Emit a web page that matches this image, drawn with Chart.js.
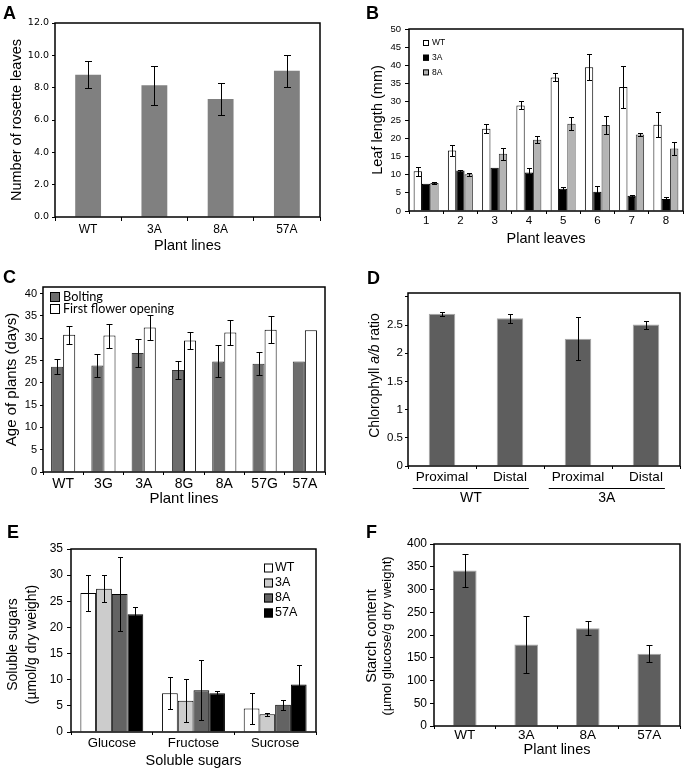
<!DOCTYPE html>
<html>
<head>
<meta charset="utf-8">
<script src="https://cdn.jsdelivr.net/npm/chart.js@4.4.1/dist/chart.umd.min.js"></script>
<style>
  html, body { margin: 0; padding: 0; background: #fff; }
  #fig { position: relative; width: 685px; height: 770px; overflow: hidden; background: #fff; }
  #fig canvas { position: absolute; }
  .tag { position: absolute; font: bold 18px "Liberation Sans", Arial, sans-serif; line-height: 18px; color: #000; }
</style>
</head>
<body>
<div id="fig">
  <canvas id="chartA"></canvas>
  <canvas id="chartB"></canvas>
  <canvas id="chartC"></canvas>
  <canvas id="chartD"></canvas>
  <canvas id="chartE"></canvas>
  <canvas id="chartF"></canvas>
  <div class="tag" style="left:3px;top:4px">A</div>
  <div class="tag" style="left:366px;top:4px">B</div>
  <div class="tag" style="left:3px;top:268px">C</div>
  <div class="tag" style="left:367px;top:269px">D</div>
  <div class="tag" style="left:7px;top:523px">E</div>
  <div class="tag" style="left:366px;top:523px">F</div>
</div>
<script>
// ---- A: rosette leaves ----
const linesA = ['WT', '3A', '8A', '57A'];
const rosetteLeaves = [8.8, 8.15, 7.3, 9.05];
const rosetteSd = [0.85, 1.2, 0.97, 1.0];
const ticksA = [0, 2, 4, 6, 8, 10, 12];

// ---- B: leaf length ----
const leafNumbers = ['1', '2', '3', '4', '5', '6', '7', '8'];
const leafWT = [10.9, 16.6, 22.6, 29.0, 36.7, 39.5, 34.1, 23.7];
const leafWTSd = [1.2, 1.6, 1.3, 1.1, 1.1, 3.6, 5.8, 3.4];
const leaf3A = [7.5, 11.1, 11.9, 10.6, 6.1, 5.3, 4.2, 3.3];
const leaf3ASd = [0, 0.3, 0, 1.2, 0.6, 1.5, 0.3, 0.5];
const leaf8A = [7.7, 10.1, 15.7, 19.6, 24.0, 23.6, 21.0, 17.2];
const leaf8ASd = [0.15, 0.4, 1.7, 1.0, 1.8, 2.5, 0.5, 1.7];
const ticksB = [0, 5, 10, 15, 20, 25, 30, 35, 40, 45, 50];

// ---- C: bolting / flowering ----
const linesC = ['WT', '3G', '3A', '8G', '8A', '57G', '57A'];
const bolting = [23.6, 23.9, 26.7, 22.9, 24.8, 24.3, 24.8];
const boltingSd = [1.7, 2.5, 3.2, 2.0, 3.6, 2.6, 0];
const flowering = [30.8, 30.6, 32.4, 29.5, 31.3, 31.9, 31.8];
const floweringSd = [2.0, 2.7, 2.9, 2.0, 2.7, 3.0, 0];
const ticksC = [0, 5, 10, 15, 20, 25, 30, 35, 40];

// ---- D: chlorophyll a/b ----
const leafParts = ['Proximal', 'Distal', 'Proximal', 'Distal'];
const partGroups = ['WT', '3A'];
const chlRatio = [2.70, 2.62, 2.26, 2.51];
const chlSd = [0.03, 0.085, 0.385, 0.07];
const ticksD = [0, 0.5, 1, 1.5, 2, 2.5, 3];

// ---- E: soluble sugars ----
const sugars = ['Glucose', 'Fructose', 'Sucrose'];
const sugarWT = [26.6, 7.4, 4.5];
const sugarWTSd = [3.5, 3.05, 3.0];
const sugar3A = [27.4, 6.0, 3.4];
const sugar3ASd = [2.6, 4.05, 0.3];
const sugar8A = [26.4, 8.0, 5.2];
const sugar8ASd = [7.0, 5.7, 1.0];
const sugar57A = [22.5, 7.4, 9.1];
const sugar57ASd = [1.4, 0.5, 3.7];
const ticksE = [0, 5, 10, 15, 20, 25, 30, 35];

// ---- F: starch ----
const linesF = ['WT', '3A', '8A', '57A'];
const starch = [342, 179, 215, 159];
const starchSd = [37, 63, 16, 19];
const ticksF = [0, 50, 100, 150, 200, 250, 300, 350, 400];

const SANS = '"Liberation Sans", Arial, sans-serif';
const DEJAVU = '"DejaVu Sans", sans-serif';
Chart.defaults.font.family = SANS;
Chart.defaults.color = '#000';

// error bars drawn from dataset.errors through the y scale
function errorBars(cap) {
  return {
    id: 'errorBars',
    afterDatasetsDraw(chart) {
      const { ctx } = chart;
      const y = chart.scales.y;
      ctx.save();
      ctx.strokeStyle = '#000';
      ctx.lineWidth = 1;
      chart.data.datasets.forEach((ds, i) => {
        if (!ds.errors) return;
        chart.getDatasetMeta(i).data.forEach((bar, j) => {
          const e = ds.errors[j];
          if (!e) return;
          const v = ds.data[j];
          const top = Math.round(y.getPixelForValue(v + e)) + 0.5;
          const bot = Math.round(y.getPixelForValue(v - e)) + 0.5;
          const x = Math.round(bar.x) + 0.5;
          ctx.beginPath();
          ctx.moveTo(x, top); ctx.lineTo(x, bot);
          ctx.moveTo(x - cap, top); ctx.lineTo(x + cap, top);
          ctx.moveTo(x - cap, bot); ctx.lineTo(x + cap, bot);
          ctx.stroke();
        });
      });
      ctx.restore();
    }
  };
}

// box around the plot area
function frame() {
  return {
    id: 'frame',
    afterDraw(chart) {
      const { ctx, chartArea: a } = chart;
      ctx.save();
      ctx.strokeStyle = '#000';
      ctx.lineWidth = 1.5;
      ctx.strokeRect(a.left, a.top, a.right - a.left, a.bottom - a.top);
      ctx.restore();
    }
  };
}

// legend inside the plot area
function insideLegend(o) {
  return {
    id: 'insideLegend',
    afterDraw(chart) {
      const { ctx, chartArea: a } = chart;
      ctx.save();
      ctx.font = o.font;
      ctx.textBaseline = 'middle';
      ctx.textAlign = 'left';
      chart.data.datasets.forEach((ds, i) => {
        const cy = a.top + o.dy + i * o.step;
        const bx = a.left + o.dx;
        ctx.fillStyle = ds.backgroundColor;
        ctx.fillRect(bx, cy - o.box / 2, o.box, o.box);
        ctx.strokeStyle = '#000';
        ctx.lineWidth = 1;
        ctx.strokeRect(bx + 0.5, cy - o.box / 2 + 0.5, o.box - 1, o.box - 1);
        ctx.fillStyle = '#000';
        if (o.maxWidth && o.maxWidth[i]) ctx.fillText(ds.label, bx + o.box + o.gap, cy, o.maxWidth[i]);
        else ctx.fillText(ds.label, bx + o.box + o.gap, cy);
      });
      ctx.restore();
    }
  };
}

// rotated y-axis titles made of several font runs
function sideTitle(lines, shift) {
  return {
    id: 'sideTitle',
    afterDraw(chart) {
      const { ctx, chartArea: a } = chart;
      const cy = (a.top + a.bottom) / 2 + (shift || 0);
      lines.forEach(line => {
        ctx.save();
        ctx.translate(line.x, cy);
        ctx.rotate(-Math.PI / 2);
        ctx.textBaseline = 'middle';
        ctx.textAlign = 'left';
        ctx.fillStyle = '#000';
        let total = 0;
        line.parts.forEach(p => { ctx.font = p.font; total += ctx.measureText(p.text).width; });
        let x = -total / 2;
        line.parts.forEach(p => {
          ctx.font = p.font;
          ctx.fillText(p.text, x, 0);
          x += ctx.measureText(p.text).width;
        });
        ctx.restore();
      });
    }
  };
}

// underline pairs of categories with a group name (panel D)
function groupUnderline(groups, tickFont) {
  return {
    id: 'groupUnderline',
    afterDraw(chart) {
      const { ctx, chartArea: a } = chart;
      const xs = chart.scales.x;
      const labels = chart.data.labels;
      ctx.save();
      groups.forEach((g, gi) => {
        const i0 = gi * 2, i1 = gi * 2 + 1;
        ctx.font = tickFont;
        const w0 = ctx.measureText(labels[i0]).width;
        const w1 = ctx.measureText(labels[i1]).width;
        const left = xs.getPixelForValue(i0) - w0 / 2 - 3;
        const right = xs.getPixelForValue(i1) + w1 / 2 + 2;
        const ly = Math.round(a.bottom + 22) + 0.5;
        ctx.strokeStyle = '#000';
        ctx.lineWidth = 1;
        ctx.beginPath();
        ctx.moveTo(left, ly); ctx.lineTo(right, ly);
        ctx.stroke();
        ctx.font = '14px ' + SANS;
        ctx.fillStyle = '#000';
        ctx.textAlign = 'center';
        ctx.textBaseline = 'middle';
        ctx.fillText(g, (left + right) / 2, ly + 10);
      });
      ctx.restore();
    }
  };
}

function makeBar(id, box, area, labels, datasets, o) {
  const cv = document.getElementById(id);
  cv.style.left = box.x + 'px';
  cv.style.top = box.y + 'px';
  cv.width = box.w;
  cv.height = box.h;
  const xTitle = o.xTitle ? {
    display: true, text: o.xTitle.text, color: '#000',
    font: { family: SANS, size: o.xTitle.size },
    padding: { top: 0, bottom: box.y + box.h - o.xTitle.cy - o.xTitle.size * 0.6 }
  } : { display: false };
  const yTitle = o.yTitle ? {
    display: true, text: o.yTitle.text, color: '#000',
    font: { family: SANS, size: o.yTitle.size },
    padding: { top: o.yTitle.cx - box.x - o.yTitle.size * 0.6, bottom: 0 }
  } : { display: false };
  return new Chart(cv, {
    type: 'bar',
    data: { labels: labels, datasets: datasets },
    options: {
      responsive: false,
      animation: false,
      events: [],
      layout: { padding: { left: 0, top: area.t - box.y, right: box.x + box.w - area.r, bottom: 0 } },
      datasets: { bar: { barPercentage: o.barPct, categoryPercentage: o.catPct } },
      plugins: { legend: { display: false }, tooltip: { enabled: false } },
      scales: {
        x: {
          afterFit: s => { s.height = box.y + box.h - area.b; },
          border: { display: false },
          grid: { drawOnChartArea: false, tickLength: o.xTick, tickColor: '#000', lineWidth: 1, offset: true },
          ticks: { color: '#000', font: { family: SANS, size: o.xFont }, padding: o.xPad, autoSkip: false, maxRotation: 0 },
          title: xTitle
        },
        y: {
          min: 0,
          max: o.yMax,
          afterFit: s => { s.width = area.l - box.x; },
          afterBuildTicks: s => { s.ticks = o.yTicks.map(v => ({ value: v })); },
          border: { display: false },
          grid: { drawOnChartArea: false, tickLength: o.yTick, tickColor: '#000', lineWidth: 1 },
          ticks: {
            color: '#000',
            font: { family: o.yFamily || SANS, size: o.yFont },
            padding: o.yPad,
            callback: o.yFmt || (v => String(v))
          },
          title: yTitle
        }
      }
    },
    plugins: [errorBars(o.cap), frame()].concat(o.extra || [])
  });
}

// A
makeBar('chartA', { x: 0, y: 0, w: 340, h: 255 }, { l: 55, t: 23, r: 320, b: 217 }, linesA, [
  { label: 'Rosette leaves', data: rosetteLeaves, errors: rosetteSd, backgroundColor: '#808080', borderWidth: 0 }
], {
  barPct: 0.39, catPct: 1, cap: 3.5, yMax: 12, yTicks: ticksA, yFmt: v => v.toFixed(1),
  yFamily: DEJAVU, yFont: 9.5, yTick: 3, yPad: 3, xFont: 12, xTick: 4, xPad: 1,
  yTitle: { text: 'Number of rosette leaves', size: 14.5, cx: 17 },
  xTitle: { text: 'Plant lines', size: 14.5, cy: 246 }
});

// B
makeBar('chartB', { x: 340, y: 0, w: 345, h: 255 }, { l: 409, t: 29, r: 683, b: 211 }, leafNumbers, [
  { label: 'WT', data: leafWT, errors: leafWTSd, backgroundColor: '#ffffff', borderColor: '#000', borderWidth: 1 },
  { label: '3A', data: leaf3A, errors: leaf3ASd, backgroundColor: '#000000', borderColor: '#000', borderWidth: 1 },
  { label: '8A', data: leaf8A, errors: leaf8ASd, backgroundColor: '#b4b4b4', borderColor: '#333', borderWidth: 1 }
], {
  barPct: 1, catPct: 0.73, cap: 2.5, yMax: 50, yTicks: ticksB,
  yFont: 9.5, yTick: 4, yPad: 4, xFont: 11.5, xTick: 3, xPad: 0,
  yTitle: { text: 'Leaf length (mm)', size: 14.5, cx: 378 },
  xTitle: { text: 'Plant leaves', size: 14.5, cy: 239 },
  extra: [insideLegend({ dx: 14, dy: 14, step: 14.7, box: 6, gap: 3, font: '8.5px ' + SANS })]
});

// C
makeBar('chartC', { x: 0, y: 255, w: 340, h: 255 }, { l: 43, t: 287, r: 325, b: 472 }, linesC, [
  { label: 'Bolting', data: bolting, errors: boltingSd, backgroundColor: '#6d6d6d', borderColor: '#333', borderWidth: 1 },
  { label: 'First flower opening', data: flowering, errors: floweringSd, backgroundColor: '#ffffff', borderColor: '#000', borderWidth: 1 }
], {
  barPct: 1, catPct: 0.6, cap: 3, yMax: 41.5, yTicks: ticksC,
  yFont: 11, yTick: 3, yPad: 3, xFont: 14, xTick: 3, xPad: 1,
  yTitle: { text: 'Age of plants (days)', size: 15, cx: 12 },
  xTitle: { text: 'Plant lines', size: 15, cy: 499 },
  extra: [insideLegend({ dx: 7, dy: 10, step: 12, box: 10, gap: 3, font: '13px Lato, ' + SANS, maxWidth: [40, 111] })]
});

// D
makeBar('chartD', { x: 340, y: 255, w: 345, h: 255 }, { l: 408, t: 293, r: 680, b: 466 }, leafParts, [
  { label: 'Chlorophyll a/b', data: chlRatio, errors: chlSd, backgroundColor: '#5e5e5e', borderColor: '#a6a6a6', borderWidth: 1 }
], {
  barPct: 0.39, catPct: 1, cap: 2.5, yMax: 3.07, yTicks: ticksD, yFmt: v => (v > 2.5 ? '' : String(v)),
  yFont: 11.5, yTick: 3, yPad: 2, xFont: 13.5, xTick: 3, xPad: 0,
  extra: [
    sideTitle([{ x: 35, parts: [
      { text: 'Chlorophyll ', font: '14px ' + SANS },
      { text: 'a/b', font: 'italic 14px ' + SANS },
      { text: ' ratio', font: '14px ' + SANS }
    ] }], -4),
    groupUnderline(partGroups, '13.5px ' + SANS)
  ]
});

// E
makeBar('chartE', { x: 0, y: 505, w: 340, h: 265 }, { l: 71, t: 549, r: 316, b: 732 }, sugars, [
  { label: 'WT', data: sugarWT, errors: sugarWTSd, backgroundColor: '#ffffff', borderColor: '#000', borderWidth: 1 },
  { label: '3A', data: sugar3A, errors: sugar3ASd, backgroundColor: '#cccccc', borderColor: '#000', borderWidth: 1 },
  { label: '8A', data: sugar8A, errors: sugar8ASd, backgroundColor: '#636363', borderColor: '#000', borderWidth: 1 },
  { label: '57A', data: sugar57A, errors: sugar57ASd, backgroundColor: '#000000', borderColor: '#000', borderWidth: 1 }
], {
  barPct: 1, catPct: 0.77, cap: 2.5, yMax: 35, yTicks: ticksE,
  yFont: 12, yTick: 4, yPad: 4, xFont: 13.2, xTick: 3, xPad: 0,
  xTitle: { text: 'Soluble sugars', size: 14.5, cy: 761 },
  extra: [
    sideTitle([
      { x: 13, parts: [{ text: 'Soluble sugars', font: '14px ' + SANS }] },
      { x: 32, parts: [{ text: '(\u00b5mol/g dry weight)', font: '14px ' + SANS }] }
    ], 4),
    insideLegend({ dx: 193, dy: 19, step: 15, box: 9, gap: 2, font: '12.5px ' + SANS })
  ]
});

// F
makeBar('chartF', { x: 340, y: 505, w: 345, h: 265 }, { l: 434, t: 544, r: 680, b: 726 }, linesF, [
  { label: 'Starch', data: starch, errors: starchSd, backgroundColor: '#5e5e5e', borderColor: '#a6a6a6', borderWidth: 1 }
], {
  barPct: 0.385, catPct: 1, cap: 3, yMax: 400, yTicks: ticksF,
  yFont: 12, yTick: 4, yPad: 3, xFont: 13.5, xTick: 3, xPad: -2,
  xTitle: { text: 'Plant lines', size: 14.5, cy: 750 },
  extra: [
    sideTitle([
      { x: 32, parts: [{ text: 'Starch content', font: '14.5px ' + SANS }] },
      { x: 47, parts: [{ text: '(\u00b5mol glucose/g dry weight)', font: '13px ' + SANS }] }
    ], 1)
  ]
});
</script>
</body>
</html>
